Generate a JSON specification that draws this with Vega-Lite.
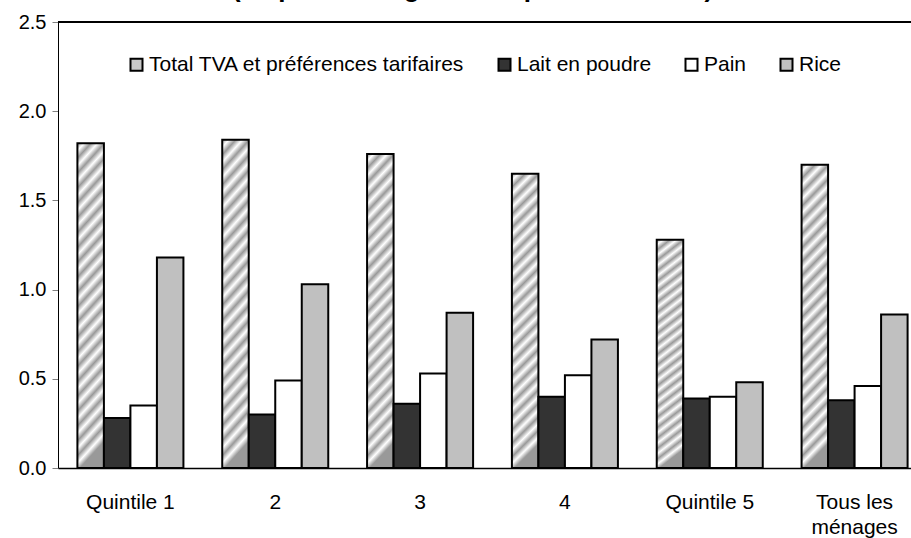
{
  "$schema": "https://vega.github.io/schema/vega-lite/v6.json",
  "width": 853,
  "height": 446,
  "autosize": {"type": "none"},
  "padding": {"left": 58, "top": 22, "right": 0, "bottom": 70},
  "background": "white",
  "config": {
    "view": {"stroke": null},
    "font": "Liberation Sans",
    "axis": {"labelFont": "Liberation Sans", "labelColor": "black", "grid": false}
  },
  "title": {
    "text": "(en pourcentage des dépenses totales)",
    "font": "Liberation Sans",
    "fontSize": 26,
    "fontWeight": "bold",
    "color": "black",
    "anchor": "middle",
    "frame": "group",
    "dx": -12,
    "dy": 13,
    "baseline": "alphabetic",
    "offset": 2
  },
  "data": {
    "values": [
      {"group": "Quintile 1", "series": "Total TVA et préférences tarifaires", "value": 1.82},
      {"group": "Quintile 1", "series": "Lait en poudre", "value": 0.28},
      {"group": "Quintile 1", "series": "Pain", "value": 0.35},
      {"group": "Quintile 1", "series": "Rice", "value": 1.18},
      {"group": "2", "series": "Total TVA et préférences tarifaires", "value": 1.84},
      {"group": "2", "series": "Lait en poudre", "value": 0.30},
      {"group": "2", "series": "Pain", "value": 0.49},
      {"group": "2", "series": "Rice", "value": 1.03},
      {"group": "3", "series": "Total TVA et préférences tarifaires", "value": 1.76},
      {"group": "3", "series": "Lait en poudre", "value": 0.36},
      {"group": "3", "series": "Pain", "value": 0.53},
      {"group": "3", "series": "Rice", "value": 0.87},
      {"group": "4", "series": "Total TVA et préférences tarifaires", "value": 1.65},
      {"group": "4", "series": "Lait en poudre", "value": 0.40},
      {"group": "4", "series": "Pain", "value": 0.52},
      {"group": "4", "series": "Rice", "value": 0.72},
      {"group": "Quintile 5", "series": "Total TVA et préférences tarifaires", "value": 1.28},
      {"group": "Quintile 5", "series": "Lait en poudre", "value": 0.39},
      {"group": "Quintile 5", "series": "Pain", "value": 0.40},
      {"group": "Quintile 5", "series": "Rice", "value": 0.48},
      {"group": "Tous les ménages", "series": "Total TVA et préférences tarifaires", "value": 1.70},
      {"group": "Tous les ménages", "series": "Lait en poudre", "value": 0.38},
      {"group": "Tous les ménages", "series": "Pain", "value": 0.46},
      {"group": "Tous les ménages", "series": "Rice", "value": 0.86}
    ]
  },
  "layer": [
    {
      "mark": {"type": "bar", "stroke": "black", "strokeWidth": 2},
      "encoding": {
        "x": {
          "field": "group",
          "type": "nominal",
          "sort": null,
          "scale": {"range": [0, 869], "paddingInner": 0.268, "paddingOuter": 0.134},
          "axis": {
            "title": null,
            "labelAngle": 0,
            "labelFontSize": 21,
            "labelPadding": 23,
            "ticks": false,
            "tickSize": 0,
            "domainColor": "black",
            "domainWidth": 1.5,
            "labelLineHeight": 25,
            "labelExpr": "datum.label == 'Tous les ménages' ? ['Tous les', 'ménages'] : datum.label"
          }
        },
        "xOffset": {
          "field": "series",
          "type": "nominal",
          "sort": ["Total TVA et préférences tarifaires", "Lait en poudre", "Pain", "Rice"],
          "scale": {"paddingInner": 0, "paddingOuter": 0}
        },
        "y": {
          "field": "value",
          "type": "quantitative",
          "scale": {"domain": [0, 2.5], "nice": false},
          "axis": {
            "title": null,
            "values": [0, 0.5, 1, 1.5, 2, 2.5],
            "format": ".1f",
            "labelFontSize": 20,
            "labelPadding": 6,
            "tickSize": 6,
            "tickColor": "#808080",
            "domainColor": "black",
            "domainWidth": 1
          }
        },
        "fill": {
          "condition": {
            "test": "datum.series === 'Total TVA et préférences tarifaires'",
            "value": {
              "gradient": "linear",
              "x1": 0, "y1": 0, "x2": 0.09, "y2": 1,
              "stops": [
                {"offset": 0, "color": "#999999"},
                {"offset": 0.0227, "color": "#ffffff"},
                {"offset": 0.0455, "color": "#999999"},
                {"offset": 0.0682, "color": "#ffffff"},
                {"offset": 0.0909, "color": "#999999"},
                {"offset": 0.1136, "color": "#ffffff"},
                {"offset": 0.1364, "color": "#999999"},
                {"offset": 0.1591, "color": "#ffffff"},
                {"offset": 0.1818, "color": "#999999"},
                {"offset": 0.2045, "color": "#ffffff"},
                {"offset": 0.2273, "color": "#999999"},
                {"offset": 0.25, "color": "#ffffff"},
                {"offset": 0.2727, "color": "#999999"},
                {"offset": 0.2955, "color": "#ffffff"},
                {"offset": 0.3182, "color": "#999999"},
                {"offset": 0.3409, "color": "#ffffff"},
                {"offset": 0.3636, "color": "#999999"},
                {"offset": 0.3864, "color": "#ffffff"},
                {"offset": 0.4091, "color": "#999999"},
                {"offset": 0.4318, "color": "#ffffff"},
                {"offset": 0.4545, "color": "#999999"},
                {"offset": 0.4773, "color": "#ffffff"},
                {"offset": 0.5, "color": "#999999"},
                {"offset": 0.5227, "color": "#ffffff"},
                {"offset": 0.5455, "color": "#999999"},
                {"offset": 0.5682, "color": "#ffffff"},
                {"offset": 0.5909, "color": "#999999"},
                {"offset": 0.6136, "color": "#ffffff"},
                {"offset": 0.6364, "color": "#999999"},
                {"offset": 0.6591, "color": "#ffffff"},
                {"offset": 0.6818, "color": "#999999"},
                {"offset": 0.7045, "color": "#ffffff"},
                {"offset": 0.7273, "color": "#999999"},
                {"offset": 0.75, "color": "#ffffff"},
                {"offset": 0.7727, "color": "#999999"},
                {"offset": 0.7955, "color": "#ffffff"},
                {"offset": 0.8182, "color": "#999999"},
                {"offset": 0.8409, "color": "#ffffff"},
                {"offset": 0.8636, "color": "#999999"},
                {"offset": 0.8864, "color": "#ffffff"},
                {"offset": 0.9091, "color": "#999999"},
                {"offset": 0.9318, "color": "#ffffff"},
                {"offset": 0.9545, "color": "#999999"},
                {"offset": 0.9773, "color": "#ffffff"},
                {"offset": 1, "color": "#999999"}
              ]
            }
          },
          "field": "series",
          "type": "nominal",
          "sort": ["Total TVA et préférences tarifaires", "Lait en poudre", "Pain", "Rice"],
          "scale": {
            "domain": ["Total TVA et préférences tarifaires", "Lait en poudre", "Pain", "Rice"],
            "range": ["#c8c8c8", "#333333", "#ffffff", "#c0c0c0"]
          },
          "legend": {
            "title": null,
            "orient": "none",
            "legendX": 68,
            "legendY": 32,
            "direction": "horizontal",
            "symbolType": "square",
            "symbolSize": 144,
            "symbolStrokeColor": "black",
            "symbolStrokeWidth": 2,
            "symbolOpacity": 1,
            "labelFontSize": 21,
            "labelFont": "Liberation Sans",
            "labelColor": "black",
            "labelOffset": 2,
            "columnPadding": 29,
            "padding": 0,
            "labelLimit": 500
          }
        }
      }
    },
    {
      "mark": {"type": "rule", "color": "black", "strokeWidth": 1.5},
      "encoding": {"y": {"datum": 2.5}}
    }
  ]
}
